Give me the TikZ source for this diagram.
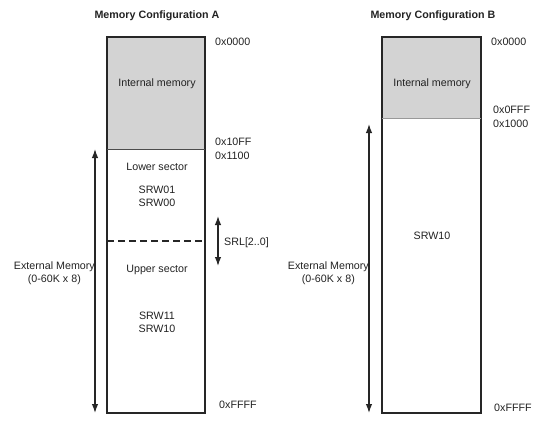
\documentclass[tikz,border=0pt]{standalone}
\usepackage{fontspec}
\setmainfont{Liberation Sans}
\usetikzlibrary{arrows.meta}
\definecolor{memgray}{HTML}{D3D3D3}
\definecolor{txt}{HTML}{222222}
\begin{document}
\begin{tikzpicture}[x=1pt,y=-1pt,
  every node/.style={font=\fontsize{10.7}{12.5}\selectfont, text=txt, inner sep=0pt},
  title/.style={font=\fontsize{10.7}{12.5}\selectfont\bfseries},
  hexlbl/.style={anchor=west},
  frame/.style={draw=black!85, line width=1.4pt, rectangle, inner sep=0pt},
  intmem/.style={fill=memgray, rectangle, inner sep=0pt},
  memarrow/.style={line width=1.3pt, draw=black!85, {Latex[length=9pt,width=6.5pt]}-{Latex[length=9pt,width=6.5pt]}},
  extlbl/.style={anchor=east, align=center}
]
\useasboundingbox (0,0) rectangle (544,440);

% ---------- Configuration A ----------
\node[title] (titleA) at (157,16) {Memory Configuration A};
\node[intmem, minimum width=98pt, minimum height=112pt] (intA) at (156,93) {};
\node[frame, minimum width=98pt, minimum height=376pt] (boxA) at (156,225) {};
\draw[black!70, line width=0.8pt] (intA.south west) -- (intA.south east);
\draw[dashed, line width=1.3pt, black!85, dash pattern=on 7pt off 4pt] (107,241) coordinate (dashL) -- (205,241) coordinate (dashR);

\node (intAlbl) at (157,84) {Internal memory};
\node (lowsec) at (157,167) {Lower sector};
\node (srw01) at (157,190) {SRW01};
\node (srw00) at (157,203) {SRW00};
\node (upsec) at (157,270) {Upper sector};
\node (srw11) at (157,316) {SRW11};
\node (srw10a) at (157,329) {SRW10};

\node[hexlbl] (a0000) at (215,42) {0x0000};
\node[hexlbl] (a10ff) at (215,142) {0x10FF};
\node[hexlbl] (a1100) at (215,156) {0x1100};
\node[hexlbl] (affff) at (219,405) {0xFFFF};

\coordinate (arAtop) at (95,149);
\coordinate (arAbot) at (95,413);
\draw[memarrow] (arAtop) -- (arAbot);
\node[extlbl] (extA) at (95,273) {External Memory\\(0-60K x 8)};

\coordinate (srlTop) at (218,216);
\coordinate (srlBot) at (218,266);
\draw[memarrow] (srlTop) -- (srlBot);
\node[hexlbl] (srl) at (224,243) {SRL[2..0]};

% ---------- Configuration B ----------
\node[title] (titleB) at (433,16) {Memory Configuration B};
\node[intmem, minimum width=99pt, minimum height=81pt] (intB) at (431.5,77.5) {};
\node[frame, minimum width=99pt, minimum height=376pt] (boxB) at (431.5,225) {};
\draw[black!40, line width=0.8pt] (intB.south west) -- (intB.south east);

\node (intBlbl) at (432,84) {Internal memory};
\node (srw10b) at (432,236) {SRW10};

\node[hexlbl] (b0000) at (491,42) {0x0000};
\node[hexlbl] (b0fff) at (493,110) {0x0FFF};
\node[hexlbl] (b1000) at (493,124) {0x1000};
\node[hexlbl] (bffff) at (494,408) {0xFFFF};

\coordinate (arBtop) at (369,124);
\coordinate (arBbot) at (369,413);
\draw[memarrow] (arBtop) -- (arBbot);
\node[extlbl] (extB) at (369,273) {External Memory\\(0-60K x 8)};
\end{tikzpicture}
\end{document}
